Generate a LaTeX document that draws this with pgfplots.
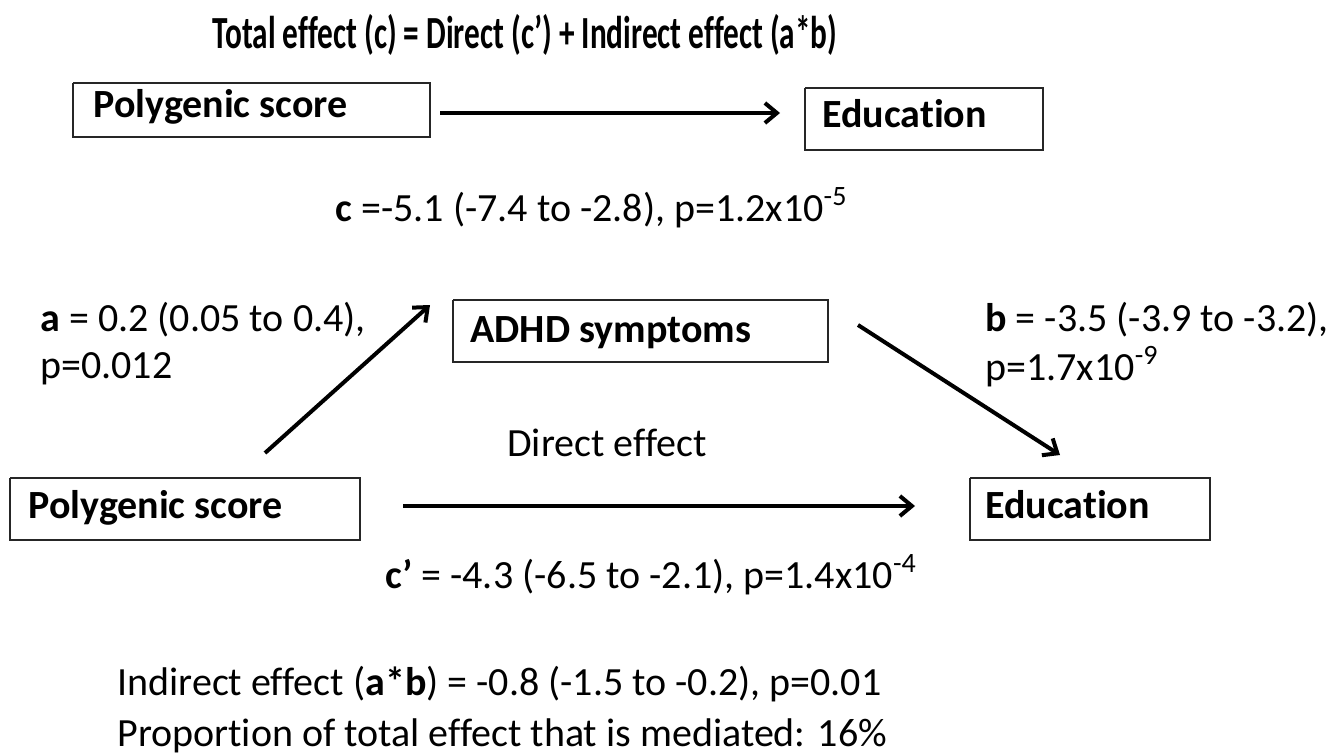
\documentclass[border=0pt]{standalone}
\usepackage{pgfplots}
\pgfplotsset{compat=1.18}
\usepackage{graphicx}
\usepackage{fontspec}
\setmainfont{Carlito}[Ligatures=NoCommon]
\usetikzlibrary{arrows.meta}
\begin{document}
\begin{tikzpicture}
\begin{axis}[
  width=671pt, height=377pt, scale only axis,
  xmin=0, xmax=1342, ymin=0, ymax=754, y dir=reverse,
  hide axis, clip=false,
  every axis plot/.append style={no markers},
]
\path[draw=none] (rel axis cs:0,0) rectangle (rel axis cs:1,1);
% boxes
\addplot[black!85, line width=1.1pt] coordinates {(73,83) (430,83) (430,137) (73,137) (73,83)};
\addplot[black!85, line width=1.1pt] coordinates {(805,88) (1043,88) (1043,150) (805,150) (805,88)};
\addplot[black!85, line width=1.1pt] coordinates {(453,300) (828,300) (828,362) (453,362) (453,300)};
\addplot[black!85, line width=1.1pt] coordinates {(10,478) (360,478) (360,540) (10,540) (10,478)};
\addplot[black!85, line width=1.1pt] coordinates {(970,478) (1210,478) (1210,540) (970,540) (970,478)};
% arrows
\addplot[black, line width=2pt, -{Straight Barb[length=6pt,width=10pt]}] coordinates {(440,113) (780,113)};
\addplot[black, line width=2pt, -{Straight Barb[length=6pt,width=10pt]}] coordinates {(265,453) (430,305)};
\addplot[black, line width=2pt, -{Straight Barb[length=6pt,width=10pt]}] coordinates {(858,325) (1060,455)};
\addplot[black, line width=2pt, -{Straight Barb[length=6pt,width=10pt]}] coordinates {(403,506) (915,506)};
% texts
\node[anchor=base, inner sep=0pt, font=\fontsize{23}{25}\selectfont\bfseries] at (axis cs:525,49) {\resizebox{312.5pt}{\height}{Total effect (c) = Direct (c\textquoteright) + Indirect effect (a*b)}};
\node[anchor=base west, inner sep=0pt, font=\fontsize{20}{22}\selectfont\bfseries] at (axis cs:93,118) {Polygenic score};
\node[anchor=base west, inner sep=0pt, font=\fontsize{20}{22}\selectfont\bfseries] at (axis cs:822,128) {Education};
\node[anchor=base west, inner sep=0pt, font=\fontsize{20}{22}\selectfont] at (axis cs:335,221) {\textbf{c} =-5.1 (-7.4 to -2.8), p=1.2x10\textsuperscript{-5}};
\node[anchor=base west, inner sep=0pt, font=\fontsize{20}{22}\selectfont] at (axis cs:40,331) {\textbf{a} = 0.2 (0.05 to 0.4),};
\node[anchor=base west, inner sep=0pt, font=\fontsize{20}{22}\selectfont] at (axis cs:40,378) {p=0.012};
\node[anchor=base west, inner sep=0pt, font=\fontsize{20}{22}\selectfont\bfseries] at (axis cs:470,342) {ADHD symptoms};
\node[anchor=base west, inner sep=0pt, font=\fontsize{20}{22}\selectfont] at (axis cs:985,331) {\textbf{b} = -3.5 (-3.9 to -3.2),};
\node[anchor=base west, inner sep=0pt, font=\fontsize{20}{22}\selectfont] at (axis cs:985,380) {p=1.7x10\textsuperscript{-9}};
\node[anchor=base, inner sep=0pt, font=\fontsize{20}{22}\selectfont] at (axis cs:607,456) {Direct effect};
\node[anchor=base west, inner sep=0pt, font=\fontsize{20}{22}\selectfont\bfseries] at (axis cs:28,518) {Polygenic score};
\node[anchor=base west, inner sep=0pt, font=\fontsize{20}{22}\selectfont\bfseries] at (axis cs:985,518) {Education};
\node[anchor=base west, inner sep=0pt, font=\fontsize{20}{22}\selectfont] at (axis cs:385,588) {\textbf{c\textquoteright} = -4.3 (-6.5 to -2.1), p=1.4x10\textsuperscript{-4}};
\node[anchor=base west, inner sep=0pt, font=\fontsize{20}{22}\selectfont] at (axis cs:117,695) {Indirect effect (\textbf{a*b}) = -0.8 (-1.5 to -0.2), p=0.01};
\node[anchor=base west, inner sep=0pt, font=\fontsize{20}{22}\selectfont] at (axis cs:117,746) {Proportion of total effect that is mediated: 16\%};
\end{axis}
\end{tikzpicture}
\end{document}
